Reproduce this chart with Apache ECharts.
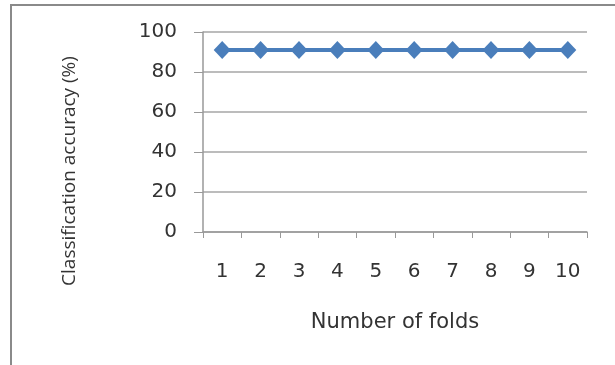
<!DOCTYPE html>
<html>
<head>
<meta charset="utf-8">
<script src="https://cdn.jsdelivr.net/npm/echarts@6/dist/echarts.min.js"></script>
<style>
  html, body { margin: 0; padding: 0; background: #fff; }
  #chart { width: 615px; height: 365px; }
</style>
</head>
<body>
<div id="chart"></div>
<script>
  // data
  var folds = ['1', '2', '3', '4', '5', '6', '7', '8', '9', '10'];
  var accuracy = [91, 91, 91, 91, 91, 91, 91, 91, 91, 91];
  var yTicks = { min: 0, max: 100, interval: 20 };

  var myChart = echarts.init(document.getElementById('chart'));
  myChart.setOption({
    animation: false,
    // outer frame of the figure
    graphic: [{
      type: 'rect',
      shape: { x: 11, y: 5, width: 640, height: 400 },
      style: { fill: 'none', stroke: '#8a8a8a', lineWidth: 2 }
    }],
    grid: { left: 203, right: 28, top: 32, bottom: 133 },
    xAxis: {
      type: 'category',
      data: folds,
      boundaryGap: true,
      name: 'Number of folds',
      nameLocation: 'middle',
      nameGap: 80,
      nameTextStyle: { fontFamily: 'DejaVu Sans', fontSize: 21, color: '#333' },
      axisLine: { lineStyle: { color: '#999', width: 1.5 } },
      axisTick: { show: true, length: 6, lineStyle: { color: '#999' } },
      axisLabel: { margin: 30, fontFamily: 'DejaVu Sans', fontSize: 20, color: '#333' }
    },
    yAxis: {
      type: 'value',
      min: yTicks.min,
      max: yTicks.max,
      interval: yTicks.interval,
      name: 'Classification accuracy (%)',
      nameLocation: 'middle',
      nameGap: 124,
      nameTextStyle: { fontFamily: 'Open Sans', fontSize: 19, color: '#333', padding: [0, 78, 0, 0] },
      axisLine: { show: true, lineStyle: { color: '#999', width: 1.5 } },
      axisTick: { show: true, inside: false, length: 9, lineStyle: { color: '#999' } },
      axisLabel: { margin: 26, fontFamily: 'DejaVu Sans', fontSize: 20, color: '#333' },
      splitLine: { show: true, lineStyle: { color: '#a6a6a6', width: 1.5 } }
    },
    series: [{
      type: 'line',
      data: accuracy,
      symbol: 'diamond',
      symbolSize: [17, 18],
      itemStyle: { color: '#4a7ebb' },
      lineStyle: { color: '#4a7ebb', width: 4 }
    }]
  });
</script>
</body>
</html>
